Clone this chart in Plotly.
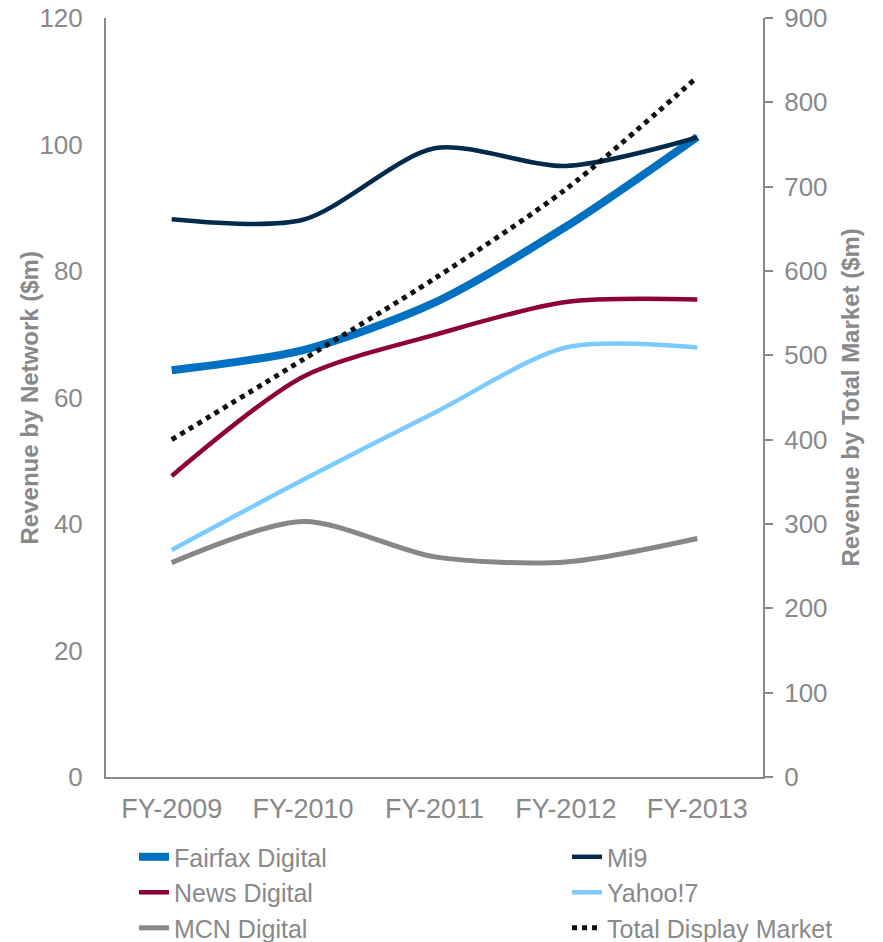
import plotly.graph_objects as go

years = ["FY-2009", "FY-2010", "FY-2011", "FY-2012", "FY-2013"]

fairfax = [64.3, 67.5, 75.0, 87.0, 101.2]
mi9 = [88.2, 88.1, 99.4, 96.6, 101.1]
news = [47.6, 63.3, 69.9, 75.1, 75.5]
yahoo = [35.9, 47.0, 57.6, 67.9, 67.9]
mcn = [33.9, 40.4, 34.8, 34.0, 37.7]
total_market = [400, 495, 591, 697, 830]

left_title = "Revenue by Network ($m)"
right_title = "Revenue by Total Market ($m)"

GRAY = "#898989"
FONT = "Liberation Sans, Arial, sans-serif"

fig = go.Figure()

series = [
    ("Fairfax Digital", fairfax, "#0070C0", 8, "legend"),
    ("Mi9", mi9, "#002B4C", 4.5, "legend2"),
    ("News Digital", news, "#8E0038", 4.5, "legend"),
    ("Yahoo!7", yahoo, "#7CCBFF", 4.5, "legend2"),
    ("MCN Digital", mcn, "#878787", 5, "legend"),
]
for name, vals, color, w, lg in series:
    fig.add_trace(go.Scatter(
        x=years, y=vals, name=name, mode="lines",
        line=dict(color=color, width=w, shape="spline", smoothing=0.8),
        yaxis="y", legend=lg,
    ))

fig.add_trace(go.Scatter(
    x=years, y=total_market, name="Total Display Market", mode="lines",
    line=dict(color="#111111", width=5, dash="5px,5px", shape="spline", smoothing=0.8),
    yaxis="y2", legend="legend2",
))

legend_common = dict(
    orientation="v",
    xref="paper", yref="container",
    xanchor="left", yanchor="top",
    font=dict(family=FONT, size=25, color=GRAY),
    tracegroupgap=0, itemwidth=30,
    bgcolor="rgba(0,0,0,0)",
)

fig.update_layout(
    width=883, height=942,
    margin=dict(l=106, r=120, t=18, b=165),
    paper_bgcolor="white", plot_bgcolor="white",
    font=dict(family=FONT, size=26, color=GRAY),
    showlegend=True,
    legend=dict(x=0.0426, y=0.1146, **legend_common),
    legend2=dict(x=0.7017, y=0.1146, **legend_common),
    xaxis=dict(
        type="category", range=[-0.5, 4.5],
        showgrid=False, zeroline=False,
        showline=True, linecolor=GRAY, linewidth=2,
        ticks="", ticklabelstandoff=7, tickangle=0,
        automargin=False,
        tickfont=dict(family=FONT, size=27, color=GRAY),
    ),
    yaxis=dict(
        range=[0, 120], dtick=20, tick0=0,
        showgrid=False, zeroline=False,
        showline=True, linecolor=GRAY, linewidth=2,
        ticks="", ticklabelstandoff=16,
        tickfont=dict(family=FONT, size=26, color=GRAY),
        automargin=False,
    ),
    yaxis2=dict(
        range=[0, 900], dtick=100, tick0=0,
        overlaying="y", side="right",
        showgrid=False, zeroline=False,
        showline=True, linecolor=GRAY, linewidth=2,
        ticks="outside", ticklen=8, tickwidth=2, tickcolor=GRAY,
        ticklabelstandoff=6,
        automargin=False,
        tickfont=dict(family=FONT, size=26, color=GRAY),
    ),
    annotations=[
        dict(text="<b>" + left_title + "</b>", xref="paper", yref="paper",
             x=-0.1157, y=0.5, xanchor="center", yanchor="middle",
             textangle=-90, showarrow=False,
             font=dict(family=FONT, size=24, color=GRAY)),
        dict(text="<b>" + right_title + "</b>", xref="paper", yref="paper",
             x=1.1339, y=0.5, xanchor="center", yanchor="middle",
             textangle=-90, showarrow=False,
             font=dict(family=FONT, size=24, color=GRAY)),
    ],
)

fig.write_html("out.html", config={"displayModeBar": False},
               post_script="document.body.style.margin='0';")
